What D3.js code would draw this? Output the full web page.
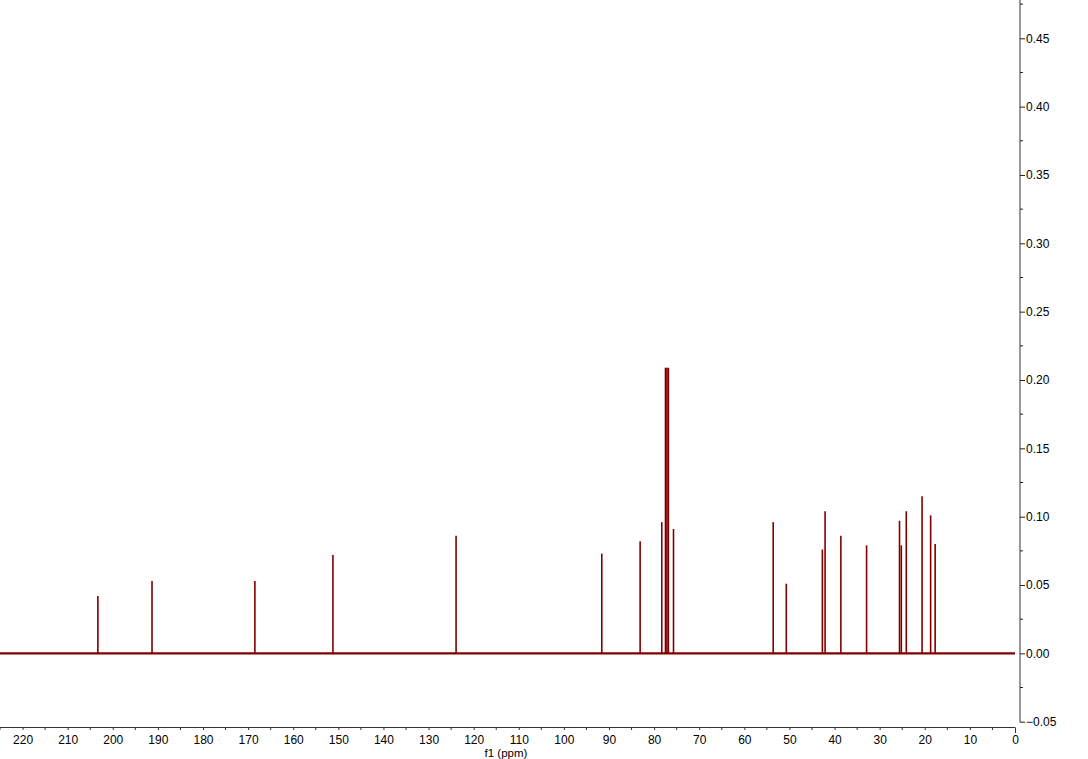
<!DOCTYPE html>
<html>
<head>
<meta charset="utf-8">
<script src="https://cdn.jsdelivr.net/npm/d3@7"></script>
<style>
  html, body { margin: 0; padding: 0; background: #fff; }
  svg { display: block; }
  text { font-family: "Liberation Sans", Arial, sans-serif; }
</style>
</head>
<body>
<svg id="chart" width="1088" height="759"></svg>
<script>
// Peak positions (ppm) and intensities
const peakPpm = [203.3, 191.3, 168.5, 151.2, 123.9, 91.6, 83.1, 78.3, 77.48, 77.16, 76.84, 75.7,
                 53.6, 50.7, 42.7, 42.1, 38.6, 32.9, 25.6, 25.2, 24.1, 20.6, 18.7, 17.7];
const peakIntensity = [0.042, 0.053, 0.053, 0.072, 0.086, 0.073, 0.082, 0.096, 0.209, 0.209, 0.209, 0.091,
                       0.096, 0.051, 0.076, 0.104, 0.086, 0.079, 0.097, 0.079, 0.104, 0.115, 0.101, 0.080];
const xMajorTicks = [220, 210, 200, 190, 180, 170, 160, 150, 140, 130, 120, 110, 100, 90, 80, 70, 60, 50, 40, 30, 20, 10, 0];
const xMinorTicks = [225, 215, 205, 195, 185, 175, 165, 155, 145, 135, 125, 115, 105, 95, 85, 75, 65, 55, 45, 35, 25, 15, 5];
const yMajorTicks = [-0.05, 0.00, 0.05, 0.10, 0.15, 0.20, 0.25, 0.30, 0.35, 0.40, 0.45];
const yMinorTicks = [-0.025, 0.025, 0.075, 0.125, 0.175, 0.225, 0.275, 0.325, 0.375, 0.425, 0.475];
const xLabel = "f1 (ppm)";

const svg = d3.select("#chart");
const color = "#800000";

const x = d3.scaleLinear().domain([225, 0]).range([0, 1015]);
const y = d3.scaleLinear().domain([-0.05, 0.45]).range([721.7, 38.3]);
const yAxisX = 1020;
const xAxisY = 727;

// baseline
svg.append("line")
  .attr("x1", x(225)).attr("x2", x(0))
  .attr("y1", y(0)).attr("y2", y(0))
  .attr("stroke", color).attr("stroke-width", 2.2);

// peaks
svg.append("g").selectAll("line")
  .data(peakPpm.map((p, i) => ({ p, v: peakIntensity[i] })))
  .join("line")
  .attr("x1", d => x(d.p)).attr("x2", d => x(d.p))
  .attr("y1", y(0)).attr("y2", d => y(d.v))
  .attr("stroke", color).attr("stroke-width", 1.6);

// x axis
const gx = svg.append("g").attr("transform", `translate(0,${xAxisY})`);
gx.append("line").attr("x1", 0).attr("x2", x(0)).attr("y1", 0.5).attr("y2", 0.5)
  .attr("stroke", "#333").attr("stroke-width", 1);
gx.call(g => {
  const ax = d3.axisBottom(x).tickValues(xMajorTicks).tickSize(3).tickPadding(5).tickFormat(d3.format("d"));
  g.call(ax);
});
gx.select(".domain").remove();
gx.selectAll(".tick line").attr("stroke", "#333").attr("y1", 0.5);
gx.selectAll(".tick text").attr("font-size", 12).attr("fill", "#000").attr("font-family", "Liberation Sans, Arial, sans-serif");
gx.selectAll(".tick").filter(d => d === 0).select("line").attr("y2", 6);
gx.append("g").selectAll("line").data(xMinorTicks).join("line")
  .attr("x1", d => x(d)).attr("x2", d => x(d)).attr("y1", 0.5).attr("y2", 3)
  .attr("stroke", "#333");

svg.append("text").attr("x", 506).attr("y", 757).attr("text-anchor", "middle")
  .attr("font-size", 11.5).attr("fill", "#000").text(xLabel);

// y axis
const gy = svg.append("g").attr("transform", `translate(${yAxisX},0)`);
gy.append("line").attr("x1", 0).attr("x2", 0).attr("y1", 0).attr("y2", y(-0.05) + 0.5)
  .attr("stroke", "#999").attr("stroke-width", 2);
gy.call(g => {
  const ay = d3.axisRight(y).tickValues(yMajorTicks).tickSize(5).tickPadding(1).tickFormat(d3.format(".2f"));
  g.call(ay);
});
gy.select(".domain").remove();
gy.selectAll(".tick line").attr("stroke", "#222");
gy.selectAll(".tick text").attr("font-size", 12).attr("fill", "#000").attr("font-family", "Liberation Sans, Arial, sans-serif");
gy.append("g").selectAll("line").data(yMinorTicks).join("line")
  .attr("x1", 0).attr("x2", 3).attr("y1", d => y(d)).attr("y2", d => y(d))
  .attr("stroke", "#222");
</script>
</body>
</html>
